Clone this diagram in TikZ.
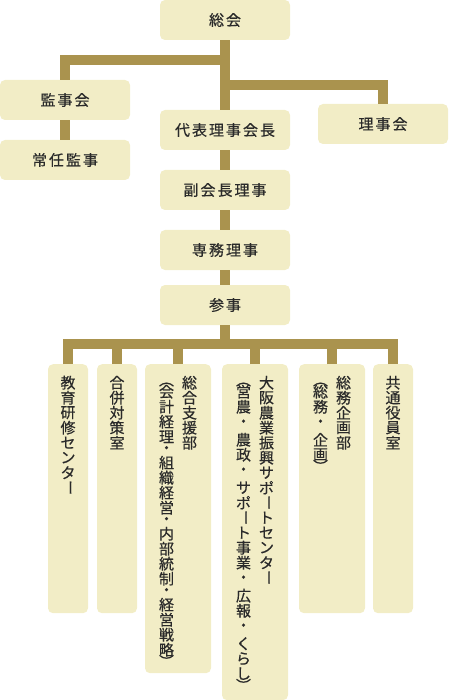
\documentclass[tikz,border=0pt]{standalone}
\usepackage{fontspec}
\setmainfont{Noto Sans CJK JP}[FakeBold=0.5]
\usepackage{graphicx}

\definecolor{boxfill}{HTML}{F2EDC6}
\definecolor{linkcol}{HTML}{AA934E}
\definecolor{txt}{HTML}{2A2A2A}

\makeatletter
% one cell of a vertical column
\newcommand\vc[2]{\vbox to #1{\vss\hbox to 15pt{\hss#2\hss}\vss}}
\newcommand\vrot[1]{\rotatebox[origin=c]{-90}{#1}}
\newcommand\vlp{\vc{9pt}{\vrot{（}}}
\newcommand\vrp{\vc{9pt}{\vrot{）}}}
\newcommand\vbar{\vc{15pt}{\vrot{ー}}}
\newcommand\vdot{\vc{\dotcell}{・}}
\newcommand\vitem[1]{\ifcat\relax\noexpand#1\expandafter\@firstoftwo\else\expandafter\@secondoftwo\fi{#1}{\vc{15pt}{#1}}}
\newcommand\vstack[2][18pt]{\vtop{\offinterlineskip\def\dotcell{#1}\null\@tfor\ch:=#2\do{\expandafter\vitem\ch}}}
% spaced horizontal label
\newcommand\hsp[1]{\@tfor\ch:=#1\do{\ch\kern2pt}\kern-2pt}
\makeatother

\tikzset{
  orgbox/.style={fill=boxfill, rounded corners=5pt, text=txt, inner sep=0pt,
    font=\fontsize{15pt}{15pt}\selectfont},
  rowbox/.style={orgbox, minimum width=130pt, minimum height=40pt},
  colbox/.style={orgbox, anchor=north, minimum width=40pt, inner ysep=11pt,
    text height=0pt, text depth=#1},
  widebox/.style={colbox=#1, minimum width=66pt},
  link/.style={draw=linkcol, line width=10pt}
}

\begin{document}
\begin{tikzpicture}[x=1pt, y=-1pt]
    \useasboundingbox (0,0) rectangle (448,700);

    % upper part
    \node[rowbox] (soukai) at (225,20) {\hsp{総会}};
    \node[rowbox] (kansa)  at (65,100) {\hsp{監事会}};
    \node[rowbox] (joukin) at (65,160) {\hsp{常任監事}};
    \node[rowbox] (daihyo) at (225,130) {\hsp{代表理事会長}};
    \node[rowbox] (riji)   at (383,124) {\hsp{理事会}};
    \node[rowbox] (fuku)   at (225,190) {\hsp{副会長理事}};
    \node[rowbox] (senmu)  at (225,250) {\hsp{専務理事}};
    \node[rowbox] (sanji)  at (225,305) {\hsp{参事}};

    % departments
    \node[colbox=227pt] (kyoiku) at (68,364) {\vstack{教育研修センタ\vbar }};
    \node[colbox=227pt] (gappei) at (117,364) {\vstack{合併対策室}};
    \node[widebox=287pt] (sogo) at (178,364)
        {\vstack[11pt]{\vlp 会計経理\vdot 組織経営\vdot 内部統制\vdot 経営戦略\vrp }\hspace{8pt}\vstack{総合支援部}};
    \node[widebox=314pt] (osaka) at (255,364)
        {\vstack{\vlp 営農\vdot 農政\vdot サポ\vbar ト事業\vdot 広報\vdot くらし\vrp }\hspace{8pt}\vstack{大阪農業振興サポ\vbar トセンタ\vbar }};
    \node[widebox=227pt] (somu) at (332,364)
        {\vstack{\vlp 総務\vdot 企画\vrp }\hspace{8pt}\vstack{総務企画部}};
    \node[colbox=227pt] (kyotsu) at (393,364) {\vstack{共通役員室}};

    % connectors
    \coordinate (j1) at (225,60);
    \coordinate (j2) at (225,85);
    \coordinate (bus) at (225,344);
    \draw[link] (soukai.south) -- (daihyo.north);
    \draw[link] (kansa.north) |- (j1);
    \draw[link] (riji.north) |- (j2);
    \draw[link] (kansa.south) -- (joukin.north);
    \draw[link] (daihyo.south) -- (fuku.north);
    \draw[link] (fuku.south) -- (senmu.north);
    \draw[link] (senmu.south) -- (sanji.north);
    \draw[link] (sanji.south) -- (bus);
    \draw[link] (kyoiku.north) |- (bus);
    \draw[link] (gappei.north) |- (bus);
    \draw[link] (sogo.north) |- (bus);
    \draw[link] (osaka.north) |- (bus);
    \draw[link] (somu.north) |- (bus);
    \draw[link] (kyotsu.north) |- (bus);
\end{tikzpicture}
\end{document}
